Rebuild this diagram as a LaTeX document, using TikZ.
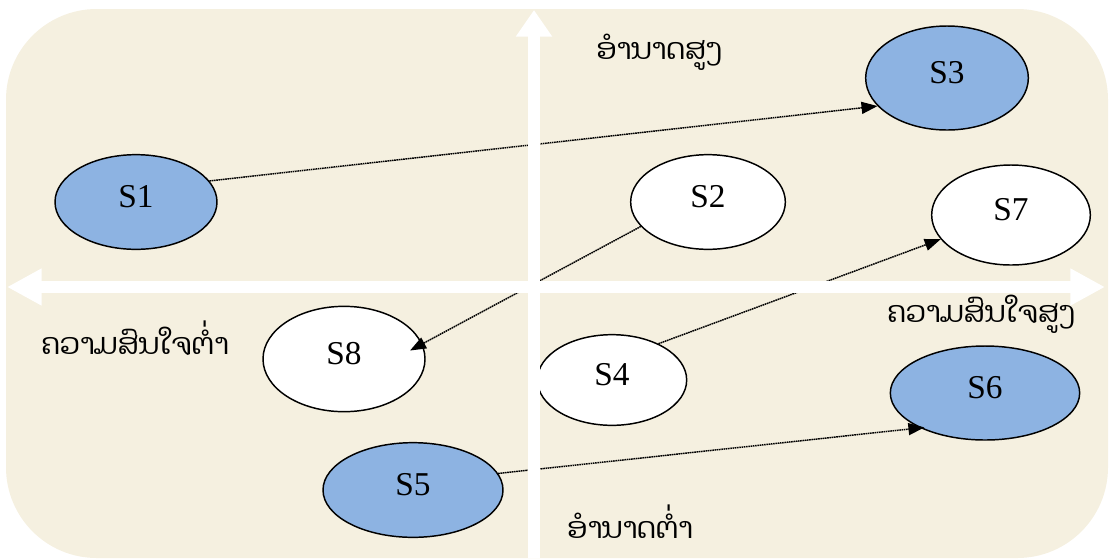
\documentclass[tikz,border=0pt]{standalone}
\usepackage{fontspec}
\setmainfont{Liberation Serif}
\newfontfamily\laofont[Script=Lao]{Dhyana}
\usetikzlibrary{arrows.meta,shapes.geometric}
\definecolor{paper}{RGB}{245,240,224}
\definecolor{stakeblue}{RGB}{141,179,226}

\begin{document}
\begin{tikzpicture}[x=0.75pt,y=-0.75pt]
          \tikzstyle{stake}=[draw,ellipse,line width=1.1pt,inner sep=0pt,font=\fontsize{25}{27}\selectfont,text height=17pt,text depth=9.5pt]
          \tikzstyle{keyed}=[stake,fill=stakeblue]
          \tikzstyle{other}=[stake,fill=white]
          \tikzstyle{move}=[dash pattern=on 1.2pt off 0.5pt,line width=1.1pt,-{Triangle[length=12pt,width=9pt]}]
          \tikzstyle{axis}=[white,line width=9pt]
          \tikzstyle{axislabel}=[font=\laofont\fontsize{22}{26}\selectfont,inner sep=0pt]
          \useasboundingbox (0,0) rectangle (1109,558);
          \fill[paper,rounded corners=68pt] (6,9) rectangle (1108,558);
          \node[keyed,minimum width=121.5pt,minimum height=71pt] (S1) at (136,202) {S1};
          \node[other,minimum width=116pt,minimum height=71pt] (S2) at (708,202) {S2};
          \node[keyed,minimum width=122pt,minimum height=78pt] (S3) at (947,78) {S3};
          \node[other,minimum width=112pt,minimum height=68pt] (S4) at (612,380) {S4};
          \node[keyed,minimum width=135pt,minimum height=71pt] (S5) at (413,490) {S5};
          \node[keyed,minimum width=142pt,minimum height=70.5pt] (S6) at (985,393) {S6};
          \node[other,minimum width=119pt,minimum height=75pt] (S7) at (1011,215) {S7};
          \node[other,minimum width=121.5pt,minimum height=79pt] (S8) at (344,359) {S8};
          \draw[move] (S1.16) -- (S3.202);
          \draw[move] (S2.200) -- ([xshift=-11pt]S8.6);
          \draw[move] (S4.38) -- (S7.199);
          \draw[move] (S5.11) -- ([xshift=8pt,yshift=-2pt]S6.204);
          \coordinate (top) at (534,10);
          \coordinate (bottom) at (534,558);
          \coordinate (left) at (7,287);
          \coordinate (right) at (1105,287);
          \draw[axis,-{Triangle[length=20pt,width=26pt]}] (bottom) -- (top);
          \draw[axis,{Triangle[length=26pt,width=26pt]}-{Triangle[length=26pt,width=26pt]}] (left) -- (right);
          \node[axislabel] (highpower) at (659,52) {ອຳນາດສູງ};
          \node[axislabel] (lowpower) at (630,522) {ອຳນາດຕ່ຳ};
          \node[axislabel] (lowinterest) at (135,338) {ຄວາມສົນໃຈຕ່ຳ};
          \node[axislabel] (highinterest) at (981,314) {ຄວາມສົນໃຈສູງ};
      \end{tikzpicture}
\end{document}
